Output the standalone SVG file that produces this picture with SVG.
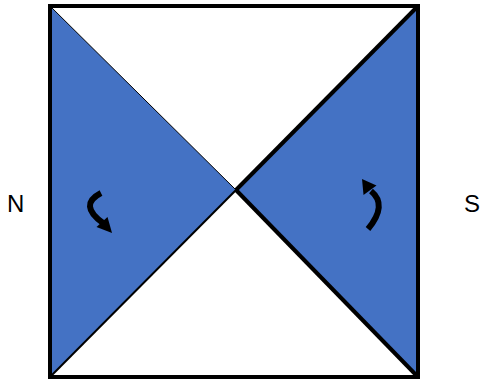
<svg xmlns="http://www.w3.org/2000/svg" width="480" height="387" viewBox="0 0 480 387">
<style>
.tri{fill:#4472C4}
.edge{stroke:#000;fill:none}
.arr{stroke:#000;stroke-width:6;fill:none;stroke-linecap:butt}
.head{fill:#000}
.lbl{font-family:"Liberation Sans",Arial,sans-serif;font-size:24px;fill:#000}
</style>
<rect width="480" height="387" fill="#fff"/>
<g id="left-triangle"><polygon class="tri" points="50,6 236,190 50,377"/></g>
<g id="right-triangle"><polygon class="tri" points="418,6 236,190 418,377"/></g>
<g id="connectors">
<line class="edge" x1="236" y1="190" x2="418" y2="6" stroke-width="4"/>
<line class="edge" x1="236" y1="190" x2="418" y2="377" stroke-width="4"/>
<line class="edge" x1="236" y1="190" x2="50" y2="377" stroke-width="2"/>
<line class="edge" x1="50" y1="6" x2="236" y2="190" stroke="#2F4F8F" stroke-width="1"/>
</g>
<g id="frame"><rect class="edge" x="50" y="6" width="368" height="371" stroke-width="4"/></g>
<g id="arrow-left">
<path class="arr" d="M101,193 Q78,205 103,223"/>
<polygon class="head" points="112,233 96.5,227 107.5,217"/>
</g>
<g id="arrow-right">
<path class="arr" d="M368,229 Q388,205 371,191"/>
<polygon class="head" points="362,179 376.5,185.5 363.5,195"/>
</g>
<g id="label-N"><text class="lbl" x="7" y="212">N</text></g>
<g id="label-S"><text class="lbl" x="464" y="212">S</text></g>
</svg>
